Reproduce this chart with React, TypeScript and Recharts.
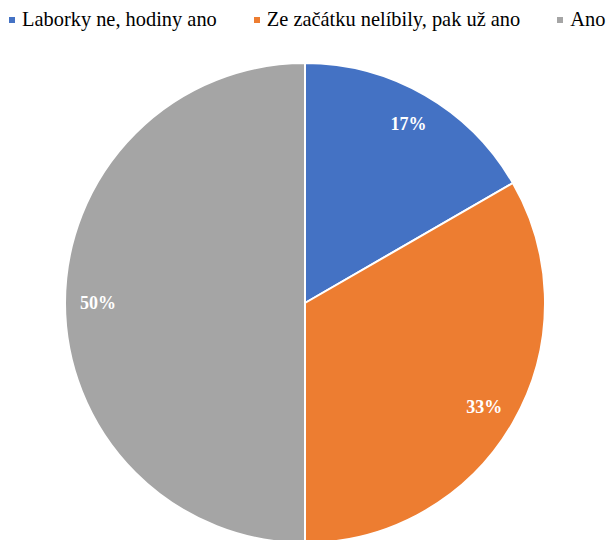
import React from "react";
import { PieChart, Pie, Cell, Legend } from "recharts";

const categories = ["Laborky ne, hodiny ano", "Ze začátku nelíbily, pak už ano", "Ano"];
const values = [1, 2, 3];
const colors = ["#4472C4", "#ED7D31", "#A5A5A5"];

const data = categories.map((name, i) => ({ name, value: values[i] }));

const RAD = Math.PI / 180;
const SERIF = "'Liberation Serif', 'Times New Roman', Times, serif";

const renderLabel = (p: any) => {
  const r = 207;
  const x = p.cx + r * Math.cos(-p.midAngle * RAD);
  const y = p.cy + r * Math.sin(-p.midAngle * RAD);
  return (
    <text
      x={x}
      y={y}
      fill="#ffffff"
      textAnchor="middle"
      dominantBaseline="central"
      fontFamily={SERIF}
      fontWeight="bold"
      fontSize={18}
    >
      {`${Math.round(p.percent * 100)}%`}
    </text>
  );
};

const LegendContent = () => (
  <div
    style={{
      display: "flex",
      whiteSpace: "nowrap",
      fontFamily: SERIF,
      fontSize: 20.4,
      lineHeight: "24px",
      color: "#000",
      paddingLeft: 9,
      paddingTop: 7,
    }}
  >
    {categories.map((c, i) => (
      <div key={c} style={{ display: "flex", alignItems: "center", marginRight: 37 }}>
        <span style={{ display: "inline-block", width: 6, height: 6, background: colors[i], marginRight: 7, marginTop: 1 }} />
        <span>{c}</span>
      </div>
    ))}
  </div>
);

export default function App() {
  return (
    <div style={{ position: "absolute", left: 0, top: 0, width: 610, height: 540, overflow: "hidden", background: "#fff" }}>
      <PieChart width={610} height={540} margin={{ top: 0, right: 0, bottom: 0, left: 0 }}>
        <Legend
          verticalAlign="top"
          align="left"
          content={LegendContent}
          wrapperStyle={{ position: "absolute", top: 0, left: 0, width: 800, height: 30 }}
        />
        <Pie
          data={data}
          dataKey="value"
          nameKey="name"
          cx={305}
          cy={273}
          outerRadius={240}
          startAngle={90}
          endAngle={-270}
          stroke="#ffffff"
          strokeWidth={2}
          labelLine={false}
          label={renderLabel}
          isAnimationActive={false}
        >
          {data.map((d, i) => (
            <Cell key={d.name} fill={colors[i]} />
          ))}
        </Pie>
      </PieChart>
    </div>
  );
}
